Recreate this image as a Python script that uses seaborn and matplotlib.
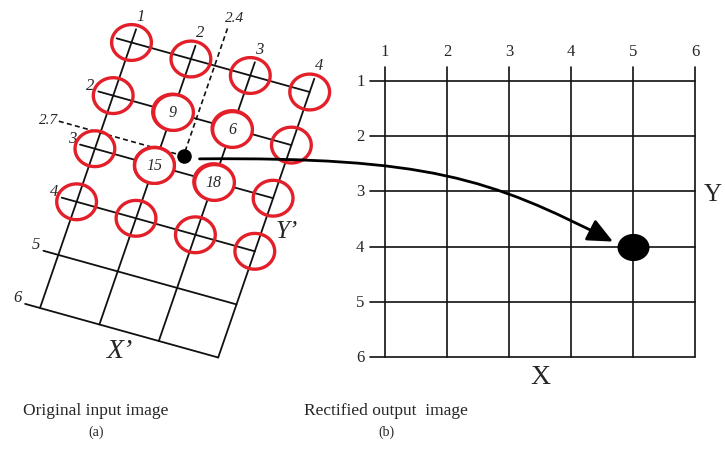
import numpy as np
import pandas as pd
import matplotlib
matplotlib.use("Agg")
import matplotlib.pyplot as plt
import seaborn as sns
from matplotlib.transforms import Affine2D
from matplotlib.patches import FancyArrowPatch
from matplotlib.path import Path

# ---------------- data ----------------
in_col_ids = [1, 2, 3, 4]
in_row_ids = [1, 2, 3, 4, 5, 6]
in_col_labels = ["1", "2", "3", "4"]
in_row_labels = ["", "2", "3", "4", "5", "6"]
nbr_cols = [1, 2, 3, 4] * 4
nbr_rows = [1] * 4 + [2] * 4 + [3] * 4 + [4] * 4
wt_cols = [2, 3, 2, 3]
wt_rows = [2, 2, 3, 3]
wt_labels = ["9", "6", "15", "18"]
src_col, src_row = 2.4, 2.7
src_col_label, src_row_label = "2.4", "2.7"
out_col_ids = [1, 2, 3, 4, 5, 6]
out_row_ids = [1, 2, 3, 4, 5, 6]
out_col_labels = ["1", "2", "3", "4", "5", "6"]
out_row_labels = ["1", "2", "3", "4", "5", "6"]
dst_col, dst_row = 5, 4
axis_in = ["X\u2019", "Y\u2019"]
axis_out = ["X", "Y"]
captions = ["Original input image", "Rectified output  image"]
panel_tags = ["(a)", "(b)"]

# ---------------- layout ----------------
W, H = 725, 460
L_ORIGIN, L_U, L_V = (131.5, 43.5), (59.4, 16.5), (-18.3, 53.1)
R_ORIGIN, R_DX, R_DY = (385.0, 81.7), 62.0, 55.3
RED = "#e3202a"
INK = "#111111"

sns.set_style("white")
plt.rcParams["font.family"] = ["Liberation Serif", "DejaVu Serif"]


def affine(origin, u, v):
    return Affine2D(np.array([[u[0], v[0], origin[0] - u[0] - v[0]],
                              [u[1], v[1], origin[1] - u[1] - v[1]],
                              [0.0, 0.0, 1.0]]))


def ellipse_marker(ratio):
    t = np.linspace(0, 2 * np.pi, 73)
    verts = np.column_stack([np.cos(t), ratio * np.sin(t)])
    return Path(verts, closed=True)


RING = ellipse_marker(0.9)
DOT = ellipse_marker(0.85)

T_in = affine(L_ORIGIN, L_U, L_V)
T_out = affine(R_ORIGIN, (R_DX, 0.0), (0.0, R_DY))

fig = plt.figure(figsize=(W / 100, H / 100), dpi=100)
ax = fig.add_axes([0, 0, 1, 1])
tr_in = T_in + ax.transData
tr_out = T_out + ax.transData

# ----- left (input) grid -----
for c in in_col_ids:
    ax.plot([c, c], [0.75, in_row_ids[-1]], color=INK, lw=1.3, transform=tr_in, zorder=1)
for r in in_row_ids:
    ax.plot([0.75, in_col_ids[-1]], [r, r], color=INK, lw=1.3, transform=tr_in, zorder=1)
for c, lab in zip(in_col_ids, in_col_labels):
    ax.text(c, 0.5, lab, transform=tr_in, ha="center", va="center",
            fontsize=12, style="italic")
for r, lab in zip(in_row_ids, in_row_labels):
    ax.text(0.66, r - 0.1, lab, transform=tr_in, ha="right", va="center",
            fontsize=12, style="italic")

# dashed guides to the source point
ax.plot([src_col, src_col], [0.3, src_row], color=INK, lw=1.2, ls=(0, (3, 2)),
        transform=tr_in, zorder=2)
ax.plot([0.3, src_col], [src_row, src_row], color=INK, lw=1.2, ls=(0, (3, 2)),
        transform=tr_in, zorder=2)
ax.text(src_col + 0.05, 0.08, src_col_label, transform=tr_in, ha="center",
        va="center", fontsize=11, style="italic")
ax.text(0.28, src_row - 0.02, src_row_label, transform=tr_in, ha="right",
        va="center", fontsize=11, style="italic")

# neighbourhood circles
nb = T_in.transform(np.column_stack([nbr_cols, nbr_rows]))
df_nb = pd.DataFrame({"x": nb[:, 0], "y": nb[:, 1]})
sns.scatterplot(data=df_nb, x="x", y="y", ax=ax, s=820, marker=RING,
                facecolor="none", edgecolor=RED, linewidth=2.4, zorder=3)
wt = T_in.transform(np.column_stack([wt_cols, wt_rows]))
df_wt = pd.DataFrame({"x": wt[:, 0], "y": wt[:, 1], "lab": wt_labels})
sns.scatterplot(data=df_wt, x="x", y="y", ax=ax, s=820, marker=RING,
                facecolor="white", edgecolor=RED, linewidth=2.4, zorder=4)
for x, y, lab in zip(df_wt.x, df_wt.y, df_wt.lab):
    ax.text(x, y, lab, ha="center", va="center", fontsize=11.5,
            style="italic", zorder=5)

src_px = T_in.transform([(src_col, src_row)])[0]
sns.scatterplot(x=[src_px[0]], y=[src_px[1]], ax=ax, s=110, color="black",
                edgecolor="black", linewidth=0, zorder=6)

ax.text(2.45, 6.35, axis_in[0], transform=tr_in, ha="center", va="center",
        fontsize=20, style="italic")
ax.text(4.39, 3.5, axis_in[1], transform=tr_in, ha="center", va="center",
        fontsize=18, style="italic")

# ----- right (output) grid -----
for c in out_col_ids:
    ax.plot([c, c], [0.76, out_row_ids[-1]], color=INK, lw=1.2, transform=tr_out, zorder=1)
for r in out_row_ids:
    ax.plot([0.76, out_col_ids[-1]], [r, r], color=INK, lw=1.2, transform=tr_out, zorder=1)
for c, lab in zip(out_col_ids, out_col_labels):
    ax.text(c, 0.46, lab, transform=tr_out, ha="center", va="center", fontsize=12)
for r, lab in zip(out_row_ids, out_row_labels):
    ax.text(0.6, r, lab, transform=tr_out, ha="center", va="center", fontsize=12)
ax.text(3.5, 6.35, axis_out[0], transform=tr_out, ha="center", va="center", fontsize=20)
ax.text(6.29, 3.05, axis_out[1], transform=tr_out, ha="center", va="center", fontsize=18)

dst_px = T_out.transform([(dst_col, dst_row)])[0]
sns.scatterplot(x=[dst_px[0]], y=[dst_px[1]], ax=ax, s=530, marker=DOT,
                color="black", edgecolor="black", linewidth=0, zorder=6)

# ----- mapping arrow -----
p0 = src_px + np.array([16.0, 3.0])
p3 = dst_px + np.array([-20.0, -5.0])
p1 = p0 + np.array([228.0, -2.0])
p2 = p3 + np.array([-123.0, -63.0])
arrow = FancyArrowPatch(path=Path([p0, p1, p2, p3],
                                  [Path.MOVETO, Path.CURVE4, Path.CURVE4, Path.CURVE4]),
                        arrowstyle="-|>,head_length=1.1,head_width=0.5",
                        mutation_scale=14, lw=2.0, color="black", zorder=7)
ax.add_patch(arrow)

# ----- captions -----
for xc, cap, tag in zip([96, 386], captions, panel_tags):
    ax.text(xc, 411, cap, ha="center", va="center", fontsize=12.5)
    ax.text(xc, 432, tag, ha="center", va="center", fontsize=10)

ax.set_xlim(0, W)
ax.set_ylim(H, 0)
ax.set_aspect("equal")
ax.axis("off")
fig.savefig("out.png", dpi=100, facecolor="white")
